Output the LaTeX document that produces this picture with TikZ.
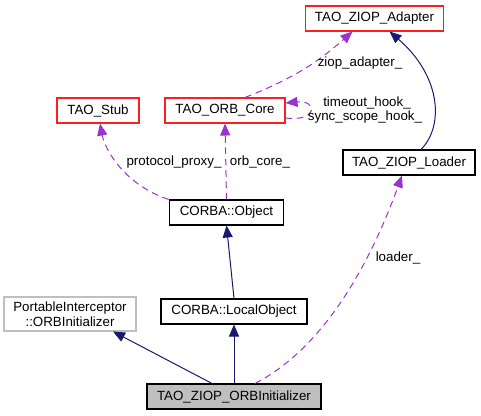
\documentclass[tikz,border=0pt]{standalone}
\usepackage{fontspec}
\setmainfont{Liberation Sans}
\usetikzlibrary{arrows.meta,calc}

\definecolor{navyedge}{RGB}{25,25,112}
\definecolor{orchidedge}{RGB}{154,50,205}
\definecolor{grayfill}{RGB}{191,191,191}
\definecolor{boxred}{RGB}{255,30,30}

\begin{document}
\begin{tikzpicture}[%
      x=0.75pt, y=-0.75pt,
      font=\fontsize{10}{11}\selectfont,
      klass/.style={draw=black, fill=white, line width=0.8pt, inner sep=1pt, minimum height=18.75pt},
      undoc/.style={klass, draw=boxred},
      inherit/.style={color=navyedge, line width=0.75pt, -{Triangle[length=9pt,width=7.5pt]}},
      usage/.style={color=orchidedge, line width=0.75pt, dash pattern=on 5pt off 3.5pt, -{Triangle[length=9pt,width=7.5pt]}},
      ]
      \useasboundingbox (0,0) rectangle (481,416);

      % classes
      \node [undoc, minimum width=104pt] (adapter) at (374.5,18.5) {TAO\_ZIOP\_Adapter};
      \node [undoc, minimum width=61.5pt] (stub) at (98,110.5) {TAO\_Stub};
      \node [undoc, minimum width=90pt] (orbcore) at (225,110.5) {TAO\_ORB\_Core};
      \node [klass, minimum width=99pt] (loader) at (409,162.5) {TAO\_ZIOP\_Loader};
      \node [klass, minimum width=86pt] (object) at (226.5,212.5) {CORBA::Object};
      \node [klass, draw=grayfill, minimum width=99pt, minimum height=25.5pt, align=center] (pi) at (70,314)
            {PortableInterceptor\\::ORBInitializer};
      \node [klass, minimum width=109.5pt] (localobj) at (234,311.5) {CORBA::LocalObject};
      \node [klass, fill=grayfill, minimum width=130.5pt] (orbinit) at (234,396.5) {TAO\_ZIOP\_ORBInitializer};

      % inheritance
      \draw [inherit] ($(orbinit.north)+(-22,0)$) -- ($(pi.south)+(43,0)$);
      \draw [inherit] (orbinit.north) -- (localobj.south);
      \draw [inherit] (localobj.north) -- (object.south);
      \draw [inherit] ($(loader.north)+(12,0)$) .. controls (445,125) and (440,75) .. ($(adapter.south)+(15,0)$);

      % usage
      \draw [usage] ($(orbinit.north)+(21,0)$) .. controls (330,345) and (375,250) .. ($(loader.south)+(-7,0)$);
      \draw [usage] (object.north west) .. controls (125,185) and (105,150) .. ($(stub.south)+(2,0)$);
      \draw [usage] (object.north) -- (orbcore.south);
      \draw [usage] ($(orbcore.north)+(20,0)$) to [bend right=10] ($(adapter.south)+(-22,0)$);
      \draw [usage] ($(orbcore.east)+(0,7.5)$) .. controls (318,122) and (318,100) .. ($(orbcore.east)+(0,-7.5)$);

      % labels
      \node (lblloader) at (398,258) {loader\_};
      \node (lblproxy) at (174,162) {protocol\_proxy\_};
      \node (lblcore) at (260,162) {orb\_core\_};
      \node (lbladapter) at (360,63) {ziop\_adapter\_};
      \node (lbltimeout) at (367,103) {timeout\_hook\_};
      \node (lblsync) at (365,117) {sync\_scope\_hook\_};
\end{tikzpicture}
\end{document}
